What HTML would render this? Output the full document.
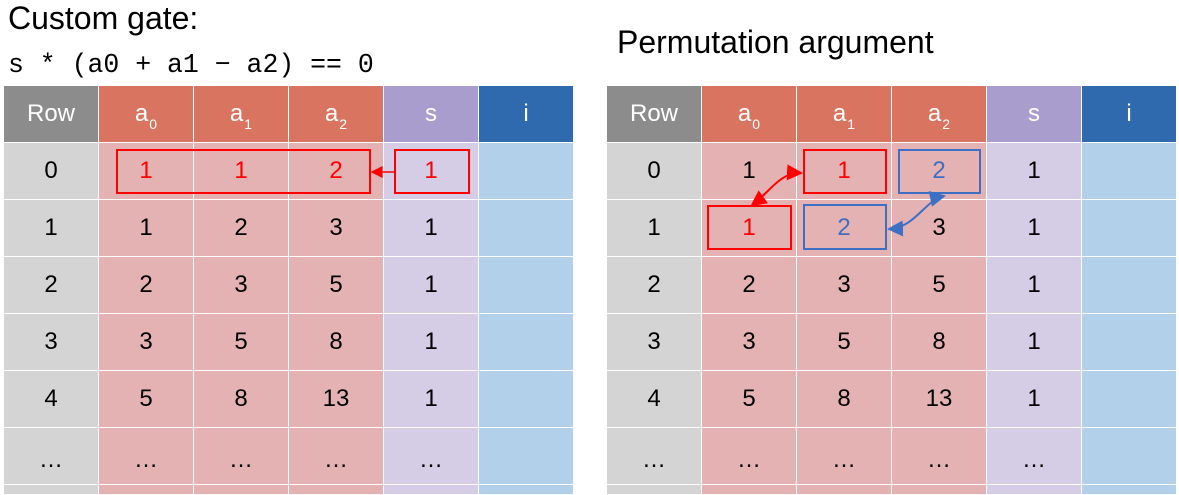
<!DOCTYPE html>
<html><head><meta charset="utf-8">
<style>
body{margin:0;width:1179px;height:488px;overflow:hidden;background:#fff;position:relative;font-family:"Liberation Sans",sans-serif}
.c{position:absolute;box-sizing:border-box;display:flex;align-items:center;justify-content:center;font-size:24px;color:#000;border-right:1.5px solid #fff;border-bottom:1.5px solid #fff}
.h{color:#fff}
.t{position:absolute;white-space:nowrap;color:#000}
.sb{font-size:14px;position:relative;top:8px;margin-left:1px}
.box{position:absolute;box-sizing:border-box;border:2px solid}
</style></head><body>
<div class="t" style="left:8px;top:0px;font-size:32px">Custom gate:</div>
<div class="t" style="left:8px;top:50px;font-size:26.5px;font-family:'Liberation Mono',monospace">s * (a0 + a1 − a2) == 0</div>
<div class="t" style="left:617px;top:24px;font-size:32px">Permutation argument</div>
<div id="tables"></div>
<svg width="1179" height="488" style="position:absolute;left:0;top:0">
<defs>
<marker id="ar" markerWidth="8" markerHeight="8" refX="7" refY="4" orient="auto"><path d="M0,0L8,4L0,8z" fill="#f00"/></marker>
<marker id="ab" markerWidth="8" markerHeight="8" refX="7" refY="4" orient="auto"><path d="M0,0L8,4L0,8z" fill="#3d6fc4"/></marker>
<marker id="arS" markerWidth="8" markerHeight="8" refX="1" refY="4" orient="auto"><path d="M8,0L0,4L8,8z" fill="#f00"/></marker>
<marker id="abS" markerWidth="8" markerHeight="8" refX="1" refY="4" orient="auto"><path d="M8,0L0,4L8,8z" fill="#3d6fc4"/></marker>
</defs>
<line x1="394" y1="172" x2="372" y2="172" stroke="#f00" stroke-width="1.5" marker-end="url(#ar)"/>
<path d="M801,173 C780,172 770,192 752,205" fill="none" stroke="#f00" stroke-width="2" marker-start="url(#arS)" marker-end="url(#ar)"/>
<path d="M944,196 C925,200 915,228 889,229" fill="none" stroke="#3d6fc4" stroke-width="2" marker-start="url(#abS)" marker-end="url(#ab)"/>
</svg>
<div class="box" style="left:116px;top:149px;width:255px;height:45px;border-color:#f00"></div>
<div class="box" style="left:394px;top:149px;width:76px;height:45px;border-color:#f00"></div>
<div class="box" style="left:803px;top:149px;width:84px;height:45px;border-color:#f00"></div>
<div class="box" style="left:898px;top:149px;width:83px;height:45px;border-color:#3d6fc4"></div>
<div class="box" style="left:707px;top:205px;width:85px;height:45px;border-color:#f00"></div>
<div class="box" style="left:803px;top:204px;width:84px;height:46px;border-color:#3d6fc4"></div>
<script>
const headers=['Row','<span>a<span class="sb">0</span></span>','<span>a<span class="sb">1</span></span>','<span>a<span class="sb">2</span></span>','s','i'];
const rowsData=[['0','1','1','2','1',''],['1','1','2','3','1',''],['2','2','3','5','1',''],['3','3','5','8','1',''],['4','5','8','13','1',''],['…','…','…','…','…','']];
const hc=['#8c8c8c','#d97461','#d97461','#d97461','#a99dcd','#2e6aad'];
const bc=['#d4d4d4','#e4b2b3','#e4b2b3','#e4b2b3','#d5cce5','#b3d0ea'];
const hl={left:{'0,1':'#f00','0,2':'#f00','0,3':'#f00','0,4':'#f00'},right:{'0,2':'#f00','0,3':'#3d6fc4','1,1':'#f00','1,2':'#3d6fc4'}};
const root=document.getElementById('tables');
[['left',4],['right',607]].forEach(([side,x0])=>{
  const cw=95,hh=57,rh=57,y0=86;
  for(let c=0;c<6;c++){
    const d=document.createElement('div');
    d.className='c h';
    
    
    d.style.cssText=`left:${x0+c*cw}px;top:${y0}px;width:${cw}px;height:${hh}px;background:${hc[c]}`;
    d.innerHTML=headers[c];root.appendChild(d);
  }
  for(let r=0;r<7;r++)for(let c=0;c<6;c++){
    const d=document.createElement('div');
    d.className='c';
    
    
    const h=r==6?10:rh;
    d.style.cssText=`left:${x0+c*cw}px;top:${y0+hh+r*rh}px;width:${cw}px;height:${h}px;background:${bc[c]}`;
    if(r<6){d.textContent=rowsData[r][c];const col=hl[side][r+','+c];if(col)d.style.color=col;if(r==5)d.style.paddingTop='8px';}
    root.appendChild(d);
  }
});
</script>
</body></html>
